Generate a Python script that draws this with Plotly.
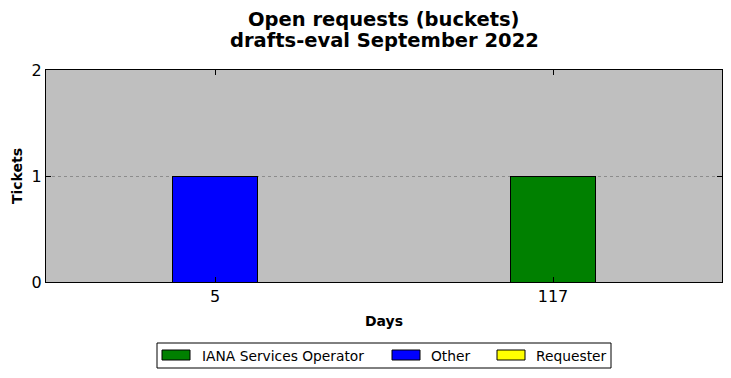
import plotly.graph_objects as go

categories = ["5", "117"]
series_names = ["IANA Services Operator", "Other", "Requester"]
series_colors = ["green", "blue", "yellow"]
iana_values = [0, 1]
other_values = [1, 0]
requester_values = [0, 0]
y_ticks = [0, 1, 2]
title_lines = ["Open requests (buckets)", "drafts-eval September 2022"]

series_values = [iana_values, other_values, requester_values]

OFF = 8  # page body margin
W, H = 731 - 2 * OFF, 378 - 2 * OFF
L, T = 46 - OFF, 70 - OFF
R = W - (722 - OFF)
B = H - (282 - OFF)
pw, ph = W - L - R, H - T - B

def px(x):
    return (x - OFF - L) / pw

def py(y):
    return (H - B - (y - OFF)) / ph

fig = go.Figure()
for name, col, vals in zip(series_names, series_colors, series_values):
    fig.add_trace(go.Bar(
        x=list(range(len(categories))),
        y=[v if v else None for v in vals],
        name=name, width=0.25,
        marker=dict(color=col, line=dict(color="black", width=1)),
        showlegend=False,
    ))

font = "DejaVu Sans"
fig.update_layout(
    width=W, height=H, barmode="stack",
    margin=dict(l=L, r=R, t=T, b=B),
    paper_bgcolor="white", plot_bgcolor="#bfbfbf",
    font=dict(family=font, color="black"),
    xaxis=dict(range=[-0.5, 1.5], tickvals=list(range(len(categories))), ticktext=categories,
               ticks="inside", ticklen=5, tickcolor="black", showline=True, linecolor="black",
               linewidth=1, mirror="ticks", showgrid=False, zeroline=False,
               tickfont=dict(size=16), title=dict(text="<b>Days</b>", font=dict(size=14), standoff=10)),
    yaxis=dict(range=[0, 2], tickvals=y_ticks, ticks="inside", ticklen=5, tickcolor="black",
               showline=True, linecolor="black", linewidth=1, mirror="ticks",
               showgrid=True, gridcolor="#8c8c8c", griddash="dot", gridwidth=1, zeroline=False,
               tickfont=dict(size=16), title=dict(text="<b>Tickets</b>", font=dict(size=14), standoff=5)),
)

anns = []
for line, yy in zip(title_lines, [19, 41]):
    anns.append(dict(text="<b>" + line + "</b>", xref="paper", yref="paper", x=px(384), y=py(yy),
                     xanchor="center", yanchor="middle", showarrow=False,
                     font=dict(size=19.5, family=font)))

# custom legend (matplotlib-style wide patches)
shapes = [dict(type="rect", xref="paper", yref="paper", x0=px(157), x1=px(611), y0=py(368), y1=py(343),
               line=dict(color="black", width=1), fillcolor="white")]
patch_x = [162, 392, 497]
text_x = [200, 429, 534]
for name, col, x0, tx in zip(series_names, series_colors, patch_x, text_x):
    shapes.append(dict(type="rect", xref="paper", yref="paper", x0=px(x0), x1=px(x0 + 28),
                       y0=py(360), y1=py(350), line=dict(color="black", width=1), fillcolor=col))
    anns.append(dict(text=name, xref="paper", yref="paper", x=px(tx), y=py(355.5), xanchor="left",
                     yanchor="middle", showarrow=False, font=dict(size=13.8, family=font)))
fig.update_layout(shapes=shapes, annotations=anns)

fig.write_html("out.html")
